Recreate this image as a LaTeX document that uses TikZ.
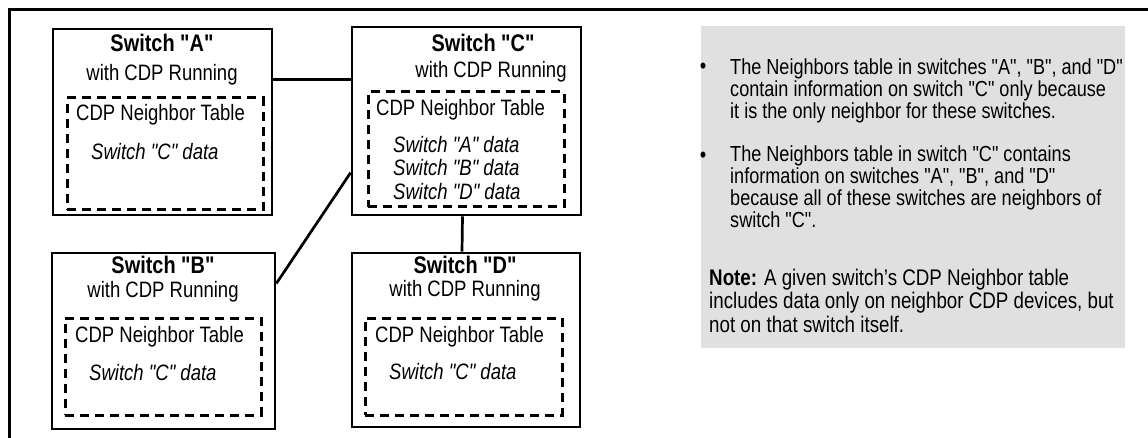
\documentclass[tikz,border=0pt]{standalone}
\usepackage{fontspec}
\setmainfont{Liberation Sans}[FakeStretch=0.83,Ligatures=TeXOff]
\usetikzlibrary{positioning}
\definecolor{notegray}{RGB}{224,224,224}

\begin{document}
\fontsize{22.3}{22}\selectfont
\begin{tikzpicture}
		[x=1pt,y=-1pt,
		 switchbox/.style={draw=black,line width=2.7pt,inner sep=0pt},
		 tablebox/.style={draw=black,line width=3pt,dash pattern=on 9pt off 6pt,inner sep=0pt},
		 link/.style={draw=black,line width=2.7pt},
		 swtitle/.style={inner sep=0pt,font=\fontsize{24}{24}\selectfont\bfseries},
		 swtext/.style={inner sep=0pt},
		 swdata/.style={inner sep=0pt,anchor=west,font=\itshape},
		 notetext/.style={inner sep=0pt,anchor=base west,align=left,font=\fontsize{21.8}{22}\selectfont}]
	\useasboundingbox (0,0) rectangle (1148,438);
	\draw[line width=3pt] (9,438) -- (9,10) -- (1148,10);
	\fill[notegray] (701,26) rectangle (1125,348);
	% switches
	\node[switchbox,minimum width=219pt,minimum height=186pt] (swA) at (162.5,122) {};
	\node[switchbox,minimum width=229pt,minimum height=188pt] (swC) at (466.5,121) {};
	\node[switchbox,minimum width=223pt,minimum height=176pt] (swB) at (163.5,341) {};
	\node[switchbox,minimum width=228pt,minimum height=174pt] (swD) at (466,340) {};
	\node[tablebox,minimum width=196pt,minimum height=112pt] (tabA) at (165,154) {};
	\node[tablebox,minimum width=196pt,minimum height=115pt] (tabC) at (466,149.5) {};
	\node[tablebox,minimum width=196pt,minimum height=97pt] (tabB) at (163,366.5) {};
	\node[tablebox,minimum width=197pt,minimum height=97pt] (tabD) at (463.5,366.5) {};
	% labels
	\node[swtitle] (titleA) at (162,43) {Switch "A"};
	\node[swtext] (runA) at (162,75) {with CDP Running};
	\node[swtext,anchor=west] (headA) at (76,115) {CDP Neighbor Table};
	\node[swdata] (dataA) at (91,152) {Switch "C" data};
	\node[swtitle] (titleC) at (483,43) {Switch "C"};
	\node[swtext] (runC) at (491,72) {with CDP Running};
	\node[swtext,anchor=west] (headC) at (376,110) {CDP Neighbor Table};
	\node[swdata] (dataCa) at (393,145) {Switch "A" data};
	\node[swdata] (dataCb) at (393,168) {Switch "B" data};
	\node[swdata] (dataCd) at (393,192) {Switch "D" data};
	\node[swtitle] (titleB) at (163,265) {Switch "B"};
	\node[swtext] (runB) at (163,292) {with CDP Running};
	\node[swtext,anchor=west] (headB) at (75,337) {CDP Neighbor Table};
	\node[swdata] (dataB) at (89,373) {Switch "C" data};
	\node[swtitle] (titleD) at (465,265) {Switch "D"};
	\node[swtext] (runD) at (465,291) {with CDP Running};
	\node[swtext,anchor=west] (headD) at (375,337) {CDP Neighbor Table};
	\node[swdata] (dataD) at (389,372) {Switch "C" data};
	% links
	\draw[link] (swA.21) -- (swA.21 -| swC.west);
	\draw[link] (swC.204) -- (swB.27);
	\draw[link] ([xshift=-4pt]swC.south) -- ([xshift=-4pt]swD.north);
	% note
	\node[swtext] (bulA) at (703,68) {\textbullet};
	\node[notetext] (itemA) at (730,119) {The Neighbors table in switches "A", "B", and "D"\\contain information on switch "C" only because\\it is the only neighbor for these switches.};
	\node[swtext] (bulB) at (703,157) {\textbullet};
	\node[notetext] (itemB) at (730,228) {The Neighbors table in switch "C" contains\\information on switches "A", "B", and "D"\\because all of these switches are neighbors of\\switch "C".};
	\node[notetext,font=\fontsize{22.6}{23.5}\selectfont] (note) at (709,332) {\textbf{Note:} A given switch’s CDP Neighbor table\\includes data only on neighbor CDP devices, but\\not on that switch itself.};
\end{tikzpicture}
\end{document}
